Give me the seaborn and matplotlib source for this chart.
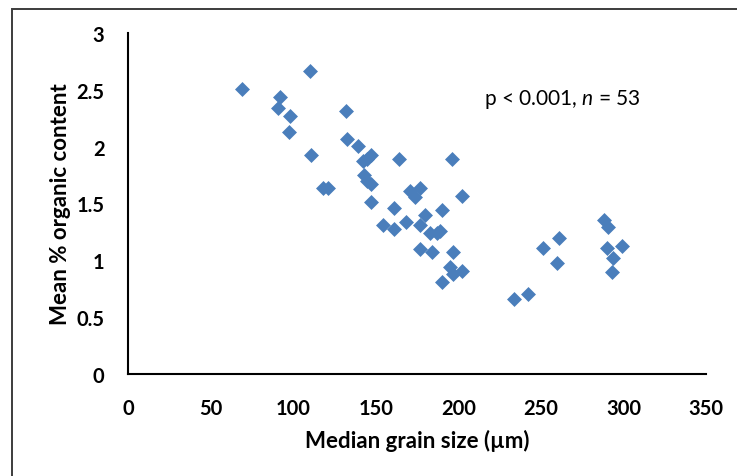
import matplotlib
matplotlib.use("Agg")
import matplotlib.pyplot as plt
import seaborn as sns
import pandas as pd
from matplotlib.patches import Rectangle

# Median grain size (µm) and mean % organic content for each sample
grain_size = [69, 92, 91, 98, 97.5, 110, 111, 118, 121, 132,
              132.5, 139, 142, 143, 145, 147, 147, 145, 147, 154.5,
              161, 161, 164, 168.4, 171, 174, 177, 177, 177, 180,
              183, 184, 187, 189, 190, 190, 195, 196, 197, 197,
              202, 202, 234, 242, 251, 260, 261, 288, 290.7, 290,
              293.8, 293, 299]
organic = [2.51, 2.44, 2.34, 2.27, 2.13, 2.67, 1.93, 1.64, 1.64, 2.31,
           2.07, 2.01, 1.87, 1.75, 1.70, 1.67, 1.93, 1.89, 1.51, 1.31,
           1.46, 1.275, 1.89, 1.34, 1.61, 1.56, 1.64, 1.31, 1.10, 1.40,
           1.24, 1.07, 1.24, 1.26, 1.44, 0.81, 0.94, 1.89, 1.07, 0.88,
           0.91, 1.57, 0.66, 0.70, 1.11, 0.975, 1.20, 1.355, 1.29, 1.11,
           1.02, 0.90, 1.125]

x_ticks = [0, 50, 100, 150, 200, 250, 300, 350]
y_ticks = [0, 0.5, 1, 1.5, 2, 2.5, 3]
y_tick_labels = ["0", "0.5", "1", "1.5", "2", "2.5", "3"]

df = pd.DataFrame({"grain": grain_size, "organic": organic})

sns.set_theme(style="white")
plt.rcParams["font.family"] = ["Lato", "DejaVu Sans"]
plt.rcParams["mathtext.fontset"] = "custom"
plt.rcParams["mathtext.rm"] = "Lato"
plt.rcParams["mathtext.it"] = "Lato:italic"

fig = plt.figure(figsize=(7.37, 4.77), dpi=100)
fig.patch.set_facecolor("white")

# chart-area frame
W, H = 737, 477
fig.patches.append(Rectangle((12 / W, -0.1), 1.2, (H - 10) / H + 0.1,
                             transform=fig.transFigure, fill=False,
                             edgecolor="#3c3c3c", linewidth=1.4))

ax = fig.add_axes([128 / W, (H - 375) / H, (706 - 128) / W, (375 - 34) / H])

sns.scatterplot(data=df, x="grain", y="organic", ax=ax, marker="D",
                s=58, color="#4A7EBB", linewidth=0, legend=False)

ax.set_xlim(0, 350)
ax.set_ylim(0, 3)
ax.set_xticks(x_ticks)
ax.set_xticklabels([str(t) for t in x_ticks])
ax.set_yticks(y_ticks)
ax.set_yticklabels(y_tick_labels)

for side in ["top", "right"]:
    ax.spines[side].set_visible(False)
for side in ["left", "bottom"]:
    ax.spines[side].set_color("black")
    ax.spines[side].set_linewidth(1.5)

ax.tick_params(axis="both", length=0, labelsize=14.5, colors="black")
ax.tick_params(axis="x", pad=17)
ax.tick_params(axis="y", pad=17)
for lab in ax.get_xticklabels() + ax.get_yticklabels():
    lab.set_fontweight("bold")

ax.set_xlabel("Median grain size (µm)", fontsize=16, fontweight="bold",
              color="black", labelpad=8)
ax.set_ylabel("Mean % organic content", fontsize=16, fontweight="bold",
              color="black", labelpad=4)

ax.text(263, 2.42, r"p < 0.001, $\it{n}$ = 53", fontsize=15,
        ha="center", va="center", color="black")

fig.savefig("out.png", dpi=100, facecolor="white")
